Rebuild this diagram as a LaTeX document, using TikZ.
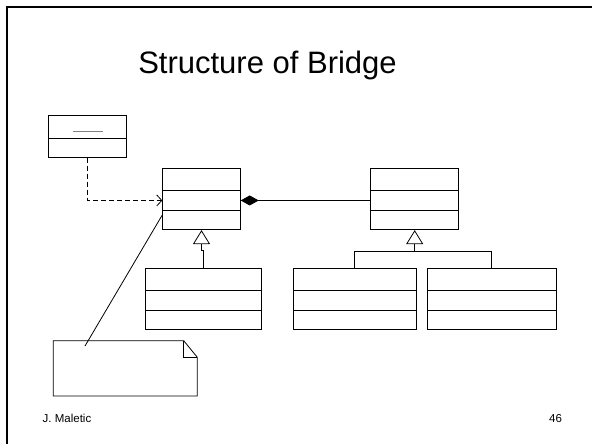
\documentclass[tikz,border=0pt]{standalone}
\usepackage{fontspec}
\setmainfont{Liberation Sans}
\usetikzlibrary{%
  arrows.meta,% wg. Diamond, Triangle
  calc%
}

\begin{document}
\begin{tikzpicture}
[x=1pt, y=-1pt, draw=black, line width=0.8pt,
comp/.style={rectangle, draw, inner sep=0pt},
hd/.style={comp, minimum height=22pt},
bd/.style={comp, minimum height=19.5pt},
dep/.style={dash pattern=on 5pt off 3pt, -{Straight Barb[length=5pt,width=11pt]}},
gen/.style={-{Triangle[open,length=14pt,width=17pt]}},
comps/.style={{Diamond[length=18pt,width=10pt]}-}]

\useasboundingbox (0,0) rectangle (592,444);

% frame
\draw[line width=2pt] (7,444) |- (592,7);

\node[anchor=base] (title) at (267.5,74) {\fontsize{31}{36}\selectfont Structure of Bridge};
\node[anchor=base west, inner sep=0pt] (author) at (42.3,422.7) {\fontsize{11.5}{13}\selectfont J. Maletic};
\node[anchor=base east, inner sep=0pt] (page) at (562.3,422.7) {\fontsize{11.5}{13}\selectfont 46};

% client
\node[hd, minimum width=78.4pt, minimum height=22.3pt] (cl1) at (87.5,126.85) {};
\node[bd, minimum width=78.4pt, minimum height=19.3pt] (cl2) at (87.5,147.65) {};
\draw[gray, line width=1.5pt] ([xshift=-15pt, yshift=-4.8pt]cl1.center) -- ([xshift=15pt, yshift=-4.8pt]cl1.center);

% abstraction
\node[hd, minimum width=77.6pt] (ab1) at (201.5,179.7) {};
\node[bd, minimum width=77.6pt] (ab2) at (201.5,200.45) {};
\node[bd, minimum width=77.6pt] (ab3) at (201.5,219.95) {};

% implementor
\node[hd, minimum width=88pt] (im1) at (414.7,179.7) {};
\node[bd, minimum width=88pt] (im2) at (414.7,200.45) {};
\node[bd, minimum width=88pt] (im3) at (414.7,219.95) {};

% refined abstraction
\node[hd, minimum width=116.4pt] (ra1) at (203.5,279.7) {};
\node[bd, minimum width=116.4pt] (ra2) at (203.5,300.45) {};
\node[bd, minimum width=116.4pt] (ra3) at (203.5,319.95) {};

% concrete implementors
\node[hd, minimum width=122.7pt] (ca1) at (354.7,279.7) {};
\node[bd, minimum width=122.7pt] (ca2) at (354.7,300.45) {};
\node[bd, minimum width=122.7pt] (ca3) at (354.7,319.95) {};

\node[hd, minimum width=129pt] (cb1) at (491.8,279.7) {};
\node[bd, minimum width=129pt] (cb2) at (491.8,300.45) {};
\node[bd, minimum width=129pt] (cb3) at (491.8,319.95) {};

% note
\draw (53.3,340.7) -- (183.7,340.7) -- (197.3,357.3) -- (197.3,396) -- (53.3,396) -- cycle;
\draw (183.7,340.7) |- (197.3,357.3);
\coordinate (notepin) at (85,346);

% connectors
\draw[dep] (cl2.south) |- (ab2.west);
\draw[comps] (ab2.east) -- (im2.west);
\draw (ra1.north) -- ++(0,-18) coordinate (rajog);
\draw[gen] (rajog) -| (ab3.south);
\coordinate (fork) at ($(im3.south)+(0,21.5)$);
\draw[gen] (fork) -- (im3.south);
\draw (ca1.north) |- (fork) -| (cb1.north);
\draw (notepin) -- ([yshift=5pt]ab3.west);

\end{tikzpicture}
\end{document}
